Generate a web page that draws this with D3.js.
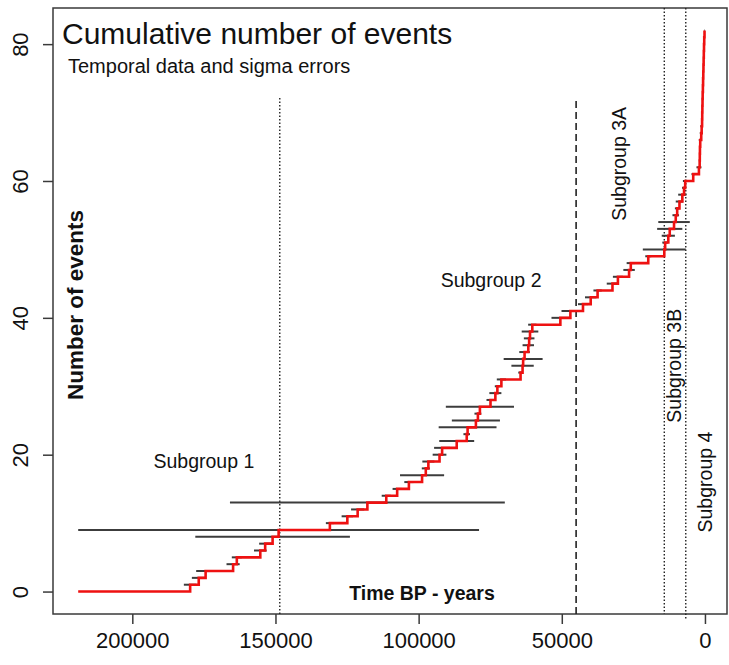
<!DOCTYPE html>
<html>
<head>
<meta charset="utf-8">
<script src="https://cdn.jsdelivr.net/npm/d3@7"></script>
<style>
  body { margin: 0; background: #fff; }
  svg { display: block; }
  text { font-family: "Liberation Sans", Arial, Helvetica, sans-serif; fill: #111; }
</style>
</head>
<body>
<svg id="chart" width="729" height="665"></svg>
<script>
// Dated events (years BP), oldest first; one sigma error for each date
const eventAges = [
  179800, 176800, 174400, 164800, 163500, 155300, 153600, 151000, 148900, 131000,
  124900, 121300, 117900, 111300, 107500, 103400, 98800, 97500, 96600, 92700,
  91800, 86700, 83200, 82900, 80000, 79300, 78600, 74900, 73200, 72500,
  71100, 64400, 63700, 63500, 63000, 61700, 61400, 61100, 60300, 50500,
  47000, 42600, 39900, 37500, 32300, 30400, 26500, 25900, 19800, 14200,
  13900, 12800, 12300, 10800, 10200, 9700, 8900, 7900, 7300, 6900,
  4100, 2100, 1850, 1800, 1750, 1650, 1300, 1150, 1000, 950,
  900, 850, 800, 720, 650, 580, 520, 460, 400, 330,
  250, 150
];
const eventSigmas = [
  2200, 2400, 3300, 2300, 1750, 2200, 2100, 27000, 70000, 1400,
  2000, 2300, 48000, 1600, 1600, 1600, 7700, 1400, 2100, 2400,
  2800, 6100, 1150, 10100, 8400, 1200, 11900, 1400, 2100, 900,
  1600, 800, 3900, 6800, 1850, 2000, 1850, 2900, 1450, 3100,
  3100, 1750, 2000, 1450, 2000, 1750, 2000, 1450, 1050, 7500,
  1000, 2300, 4400, 5500, 1150, 800, 1300, 1450, 700, 800,
  600, 870, 300, 300, 300, 500, 500, 450, 250, 250,
  200, 250, 200, 200, 200, 150, 150, 150, 120, 120,
  100, 100
];

const xTickValues = [200000, 150000, 100000, 50000, 0];
const yTickValues = [0, 20, 40, 60, 80];

// Subgroup boundaries (years BP) and the subgroup names
const outerBoundaries = [148500, 45000];   // drawn up to 72 events
const recentBoundaries = [14200, 6700];    // drawn across the full height
const subgroupNames = ["Subgroup 1", "Subgroup 2", "Subgroup 3A", "Subgroup 3B", "Subgroup 4"];

const chartTitle = "Cumulative number of events";
const chartSubtitle = "Temporal data and sigma errors";
const xTitle = "Time BP - years";
const yTitle = "Number of events";

// ---- layout ----
const svg = d3.select("#chart");
const box = { left: 53, right: 727, top: 8, bottom: 614 };

const x = d3.scaleLinear().domain([227700, -7700]).range([box.left, box.right]);
const y = d3.scaleLinear().domain([-3.28, 85.28]).range([box.bottom, box.top]);

const ink = "#3a3a3a";

// ---- axes ----
const xAxis = d3.axisBottom(x).tickValues(xTickValues).tickSize(10).tickPadding(8)
  .tickFormat(d3.format("d"));
const gx = svg.append("g").attr("transform", `translate(0,${box.bottom})`).call(xAxis);
gx.select(".domain").remove();
gx.selectAll(".tick line").attr("stroke", ink).attr("stroke-width", 1.5);
gx.selectAll(".tick text").style("font-size", "22px").attr("fill", "#111")
  .attr("dy", "0.71em");

const yAxis = d3.axisLeft(y).tickValues(yTickValues).tickSize(10).tickFormat(d3.format("d"));
const gy = svg.append("g").attr("transform", `translate(${box.left},0)`).call(yAxis);
gy.select(".domain").remove();
gy.selectAll(".tick line").attr("stroke", ink).attr("stroke-width", 1.5);
gy.selectAll(".tick text")
  .style("font-size", "22px").attr("fill", "#111")
  .attr("x", null).attr("dy", null)
  .attr("text-anchor", "middle")
  .attr("transform", "translate(-25,0) rotate(-90)")
  .attr("y", 0);

// plot frame
svg.append("rect")
  .attr("x", box.left).attr("y", box.top)
  .attr("width", box.right - box.left).attr("height", box.bottom - box.top)
  .attr("fill", "none").attr("stroke", ink).attr("stroke-width", 1.5);

// ---- subgroup boundaries ----
svg.append("line")
  .attr("x1", x(outerBoundaries[0])).attr("x2", x(outerBoundaries[0]))
  .attr("y1", box.bottom).attr("y2", y(72.4))
  .attr("stroke", "#222").attr("stroke-width", 1.4).attr("stroke-dasharray", "1.5,2");
svg.append("line")
  .attr("x1", x(outerBoundaries[1])).attr("x2", x(outerBoundaries[1]))
  .attr("y1", box.bottom).attr("y2", y(72))
  .attr("stroke", "#222").attr("stroke-width", 1.6).attr("stroke-dasharray", "7,4");
recentBoundaries.forEach((b, i) => {
  svg.append("line")
    .attr("x1", x(b)).attr("x2", x(b))
    .attr("y1", box.top).attr("y2", box.bottom + (i === 1 ? 5 : 0))
    .attr("stroke", "#222").attr("stroke-width", 1.4).attr("stroke-dasharray", "1.5,2");
});

// ---- sigma error bars ----
const events = eventAges.map((age, i) => ({ age, sigma: eventSigmas[i], n: i + 1 }));
svg.append("g").selectAll("line").data(events).join("line")
  .attr("x1", d => x(d.age + d.sigma)).attr("x2", d => x(d.age - d.sigma))
  .attr("y1", d => y(d.n)).attr("y2", d => y(d.n))
  .attr("stroke", "#3c3c3c").attr("stroke-width", 2);

// ---- cumulative count (step line) ----
const start = d3.max(events, d => d.age + d.sigma);
const stepPoints = [[start, 0]].concat(events.map(d => [d.age, d.n]));
const line = d3.line().x(d => x(d[0])).y(d => y(d[1])).curve(d3.curveStepAfter);
svg.append("path").datum(stepPoints)
  .attr("d", line).attr("fill", "none")
  .attr("stroke", "#ee1111").attr("stroke-width", 2.6).attr("stroke-linejoin", "miter");

// ---- text ----
svg.append("text").attr("x", box.left + 9).attr("y", 44)
  .style("font-size", "30px").text(chartTitle);
svg.append("text").attr("x", box.left + 15).attr("y", 73)
  .style("font-size", "20px").text(chartSubtitle);

svg.append("text").attr("x", 422).attr("y", 600).attr("text-anchor", "middle")
  .style("font-size", "19.5px").style("font-weight", "bold").text(xTitle);
svg.append("text").attr("text-anchor", "middle")
  .attr("transform", `translate(83,305) rotate(-90)`)
  .style("font-size", "22.5px").style("font-weight", "bold").text(yTitle);

const labelSize = "19.5px";
svg.append("text").attr("x", x(175000)).attr("y", y(18)).attr("text-anchor", "middle")
  .style("font-size", labelSize).text(subgroupNames[0]);
svg.append("text").attr("x", x(74700)).attr("y", y(44.5)).attr("text-anchor", "middle")
  .style("font-size", labelSize).text(subgroupNames[1]);
[[27600, 62.5], [8200, 33], [-2450, 16]].forEach(([a, n], i) => {
  svg.append("text").attr("text-anchor", "middle")
    .attr("transform", `translate(${x(a)},${y(n)}) rotate(-90)`)
    .style("font-size", labelSize).text(subgroupNames[i + 2]);
});
</script>
</body>
</html>
